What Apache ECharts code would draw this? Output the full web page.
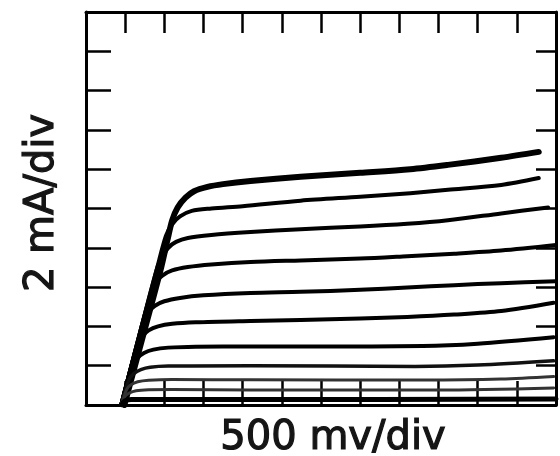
<!DOCTYPE html>
<html>
<head>
<meta charset="utf-8">
<script src="https://cdn.jsdelivr.net/npm/echarts@6/dist/echarts.min.js"></script>
<style>
  html, body { margin: 0; padding: 0; background: #fff; }
  #chart { width: 560px; height: 456px; }
</style>
</head>
<body>
<div id="chart"></div>
<script>
// collector voltage (V) vs collector current (mA), one trace per base step
const X_LABEL = "500 mv/div";
const Y_LABEL = "2 mA/div";
const X_MIN = 0, X_MAX = 6, X_STEP = 0.5;
const Y_MIN = 0, Y_MAX = 20, Y_STEP = 2;

const trace1 = [[0.49,0],[0.76,4.0],[0.96,7.0],[1.04,8.4],[1.1,9.4],[1.17,10.05],[1.27,10.55],[1.38,10.88],[1.55,11.1],[1.75,11.24],[2.1,11.4],[2.74,11.62],[3.5,11.82],[4.14,12.0],[4.62,12.22],[5.3,12.58],[5.78,12.88]];
const trace2 = [[0.45,0],[0.71,4.0],[0.91,7.0],[1.02,8.6],[1.1,9.2],[1.2,9.6],[1.35,9.88],[1.6,10.0],[2.0,10.12],[2.74,10.4],[3.5,10.6],[4.14,10.78],[4.62,10.95],[5.3,11.2],[5.78,11.55]];
const trace3 = [[0.45,0],[0.71,4.0],[0.91,7.0],[0.97,7.5],[1.05,8.0],[1.15,8.3],[1.3,8.5],[1.6,8.65],[2.1,8.8],[2.74,8.95],[3.5,9.08],[4.1,9.22],[4.62,9.4],[5.3,9.75],[5.9,10.05]];
const trace4 = [[0.45,0],[0.71,4.0],[0.84,5.8],[0.9,6.3],[0.98,6.6],[1.1,6.85],[1.3,7.02],[1.6,7.15],[2.1,7.28],[2.74,7.36],[3.5,7.45],[4.1,7.57],[4.7,7.7],[5.3,7.86],[6.0,8.14]];
const trace5 = [[0.45,0],[0.74,4.3],[0.8,4.75],[0.88,5.05],[1.0,5.28],[1.2,5.45],[1.5,5.58],[2.1,5.7],[2.74,5.76],[3.5,5.86],[4.1,5.98],[4.7,6.1],[5.3,6.2],[6.0,6.3]];
const trace6 = [[0.45,0],[0.66,3.1],[0.72,3.5],[0.8,3.8],[0.92,4.0],[1.1,4.13],[1.4,4.21],[2.1,4.28],[2.74,4.33],[3.5,4.4],[4.1,4.48],[4.7,4.6],[5.3,4.78],[5.97,5.2]];
const trace7 = [[0.45,0],[0.6,2.0],[0.66,2.4],[0.74,2.65],[0.86,2.82],[1.05,2.92],[1.4,2.97],[2.1,2.98],[3.0,2.98],[4.3,3.0],[5.0,3.12],[5.97,3.45]];
const trace8 = [[0.45,0],[0.55,1.3],[0.61,1.6],[0.7,1.8],[0.82,1.92],[1.05,1.98],[2.1,2.0],[4.2,1.96],[5.0,2.03],[5.97,2.25]];
const trace9 = [[0.45,0],[0.52,0.8],[0.57,1.02],[0.66,1.18],[0.8,1.26],[1.1,1.3],[2.1,1.28],[4.3,1.27],[5.3,1.32],[5.97,1.45]];
const trace10 = [[0.45,0],[0.5,0.45],[0.55,0.6],[0.64,0.72],[0.8,0.77],[1.1,0.79],[2.1,0.76],[4.5,0.76],[5.97,0.87]];
const trace11 = [[0.46,0],[0.49,0.2],[0.58,0.28],[2.0,0.28],[6.0,0.3]];

const traces = [trace1, trace2, trace3, trace4, trace5, trace6, trace7, trace8, trace9, trace10, trace11];
const traceWidths = [6, 4, 4, 4, 4, 4, 4, 3.5, 3, 3, 5];
const traceColors = ["#000", "#000", "#000", "#000", "#000", "#000", "#000", "#111", "#333", "#333", "#000"];

const chart = echarts.init(document.getElementById("chart"), null, { renderer: "canvas" });

const frameLine = { show: true, onZero: false, lineStyle: { color: "#000", width: 3 } };
const tick = (len) => ({ show: true, inside: true, length: len, lineStyle: { color: "#000", width: 2.5 } });

const xAxisBase = {
  type: "value", min: X_MIN, max: X_MAX, interval: X_STEP,
  axisLine: frameLine, axisLabel: { show: false }, splitLine: { show: false },
};
const yAxisBase = {
  type: "value", min: Y_MIN, max: Y_MAX, interval: Y_STEP,
  axisLine: frameLine, axisLabel: { show: false }, splitLine: { show: false },
};

const labelStyle = {
  fill: "#151515", stroke: "#151515", lineWidth: 1.2,
  font: "40px 'DejaVu Sans'",
  align: "center", verticalAlign: "middle",
};

const options = {
  backgroundColor: "#fff",
  animation: false,
  grid: { left: 86, right: 4, top: 12, bottom: 51 },
  xAxis: [
    { ...xAxisBase, position: "bottom", axisTick: tick(24) },
    { ...xAxisBase, position: "top", axisTick: tick(21) },
  ],
  yAxis: [
    { ...yAxisBase, position: "left", axisTick: tick(25) },
    { ...yAxisBase, position: "right", axisTick: tick(20) },
  ],
  series: traces.map((data, i) => ({
    type: "line",
    data,
    xAxisIndex: 0,
    yAxisIndex: 0,
    smooth: 0.3,
    showSymbol: false,
    symbol: "none",
    lineStyle: { color: traceColors[i], width: traceWidths[i], cap: "round", join: "round" },
    silent: true,
  })),
  graphic: [
    { type: "text", x: 333, y: 439, style: { ...labelStyle, text: X_LABEL } },
    { type: "text", x: 43, y: 203, rotation: Math.PI / 2, style: { ...labelStyle, text: Y_LABEL } },
  ],
};

chart.setOption(options);
</script>
</body>
</html>
